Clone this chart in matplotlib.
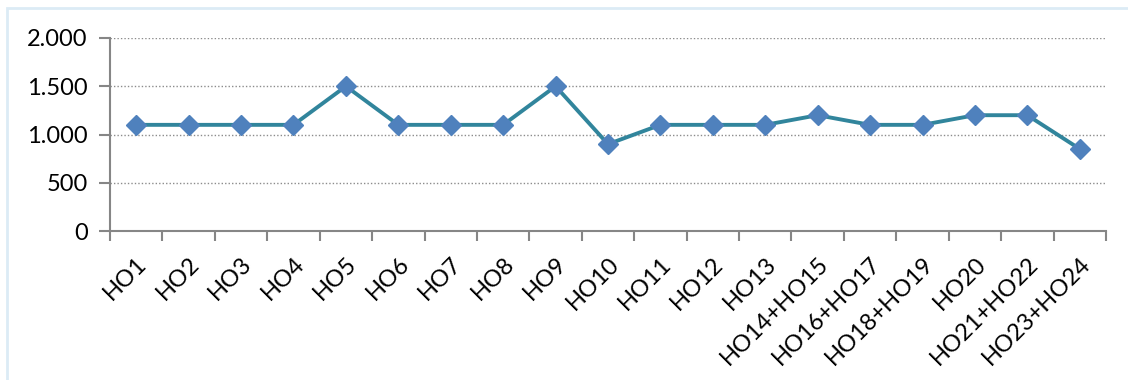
import matplotlib.pyplot as plt
from matplotlib.patches import Rectangle
from matplotlib.ticker import FuncFormatter
from matplotlib.transforms import ScaledTranslation

categories = ['HO1', 'HO2', 'HO3', 'HO4', 'HO5', 'HO6', 'HO7', 'HO8', 'HO9', 'HO10',
              'HO11', 'HO12', 'HO13', 'HO14+HO15', 'HO16+HO17', 'HO18+HO19',
              'HO20', 'HO21+HO22', 'HO23+HO24']
values = [1100, 1100, 1100, 1100, 1500, 1100, 1100, 1100, 1500, 900,
          1100, 1100, 1100, 1200, 1100, 1100, 1200, 1200, 850]
y_ticks = [0, 500, 1000, 1500, 2000]

plt.rcParams['font.family'] = ['Lato', 'DejaVu Sans']

W, H = 1128, 380
fig = plt.figure(figsize=(W / 100, H / 100), dpi=100)

# light blue chart frame
fig.patches.append(Rectangle((7 / W, -0.1), 1.2, (H - 8) / H + 0.1,
                             transform=fig.transFigure, fill=False,
                             edgecolor='#dcebf5', linewidth=2))

ax = fig.add_axes([110 / W, 1 - 231 / H, (1106 - 110) / W, (231 - 38) / H])

x = list(range(len(categories)))
ax.plot(x, values, color='#31859c', linewidth=2.8, marker='D',
        markersize=10.5, markerfacecolor='#4f81bd', markeredgecolor='#4f81bd', zorder=3)

ax.set_xlim(-0.5, len(categories) - 0.5)
ax.set_ylim(0, 2000)
ax.set_yticks(y_ticks)
ax.yaxis.set_major_formatter(FuncFormatter(lambda v, p: f'{int(v):,}'.replace(',', '.')))
ax.grid(axis='y', color='#8c8c8c', linestyle=(0, (1, 1.5)), linewidth=1)
ax.set_axisbelow(True)

# category boundaries carry the tick marks, centres carry the labels
ax.set_xticks([i - 0.5 for i in range(len(categories) + 1)], minor=False)
ax.set_xticklabels([])
ax.set_xticks(x, minor=True)
ax.set_xticklabels(categories, minor=True, rotation=45, ha='right',
                   rotation_mode='anchor', fontsize=17)
shift = ScaledTranslation(4 / 100, 0, fig.dpi_scale_trans)
for lbl in ax.get_xticklabels(minor=True):
    lbl.set_transform(lbl.get_transform() + shift)
ax.tick_params(axis='x', which='minor', length=0, pad=16)
ax.tick_params(axis='x', which='major', length=7, color='#868686', width=1.5)
ax.tick_params(axis='y', length=8, color='#868686', width=1.5, labelsize=17, pad=8)

for side in ['top', 'right']:
    ax.spines[side].set_visible(False)
for side in ['left', 'bottom']:
    ax.spines[side].set_color('#868686')
    ax.spines[side].set_linewidth(1.5)

fig.savefig('out.png', dpi=100)
